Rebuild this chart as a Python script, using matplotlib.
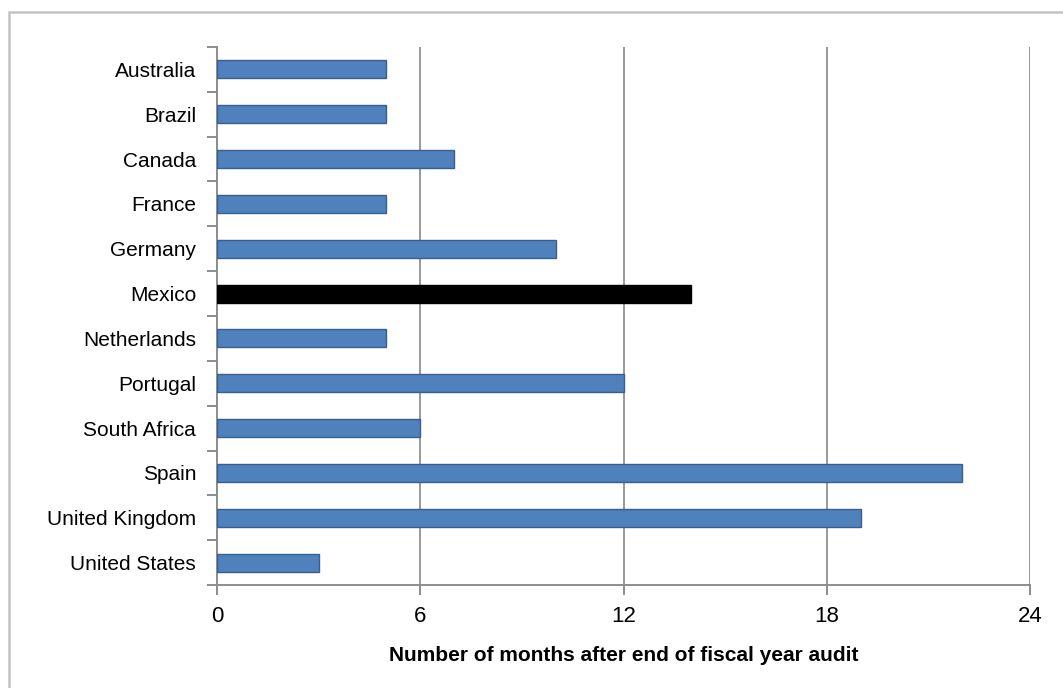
import matplotlib.pyplot as plt
import numpy as np
from matplotlib.patches import Rectangle

countries = ["Australia", "Brazil", "Canada", "France", "Germany", "Mexico",
             "Netherlands", "Portugal", "South Africa", "Spain",
             "United Kingdom", "United States"]
months = [5, 5, 7, 5, 10, 14, 5, 12, 6, 22, 19, 3]
highlight = "Mexico"
xticks = [0, 6, 12, 18, 24]

plt.rcParams['font.family'] = ['Liberation Sans Narrow', 'Liberation Sans', 'DejaVu Sans']

fig = plt.figure(figsize=(10.63, 6.88), dpi=100)
ax = fig.add_axes([0.2041, 0.1497, 0.969 - 0.2041, 0.9317 - 0.1497])

# light frame around the whole chart
fig.patches.append(Rectangle((9 / 1063, -0.05), 1.2, 1 - 12 / 688 + 0.05,
                             transform=fig.transFigure, fill=False,
                             edgecolor="#c3c3c3", linewidth=1.8))

y = np.arange(len(countries))
face = ["black" if c == highlight else "#4F81BD" for c in countries]
edge = ["black" if c == highlight else "#3A5F8E" for c in countries]
ax.barh(y, months, height=0.4, color=face, edgecolor=edge, linewidth=1.0, zorder=3)

ax.set_xlim(0, 24)
ax.set_ylim(len(countries) - 0.5, -0.5)
ax.set_xticks(xticks)
ax.set_xticklabels([str(t) for t in xticks], fontsize=16)
ax.grid(True, axis="x", color="#999999", linewidth=1.4, zorder=0)

ax.set_yticks(y)
ax.set_yticklabels(countries, fontsize=15)
ax.set_yticks(np.arange(len(countries) + 1) - 0.5, minor=True)
ax.tick_params(axis="y", which="major", length=0, pad=15)
ax.tick_params(axis="y", which="minor", length=7, width=1.4, color="#8c8c8c")
ax.tick_params(axis="x", length=7, width=1.4, color="#8c8c8c", pad=8)

for side in ["top", "right"]:
    ax.spines[side].set_visible(False)
for side in ["left", "bottom"]:
    ax.spines[side].set_color("#8c8c8c")
    ax.spines[side].set_linewidth(1.4)

ax.set_xlabel("Number of months after end of fiscal year audit",
              fontsize=15, fontweight="bold", labelpad=14)

fig.savefig("out.png", dpi=100)
